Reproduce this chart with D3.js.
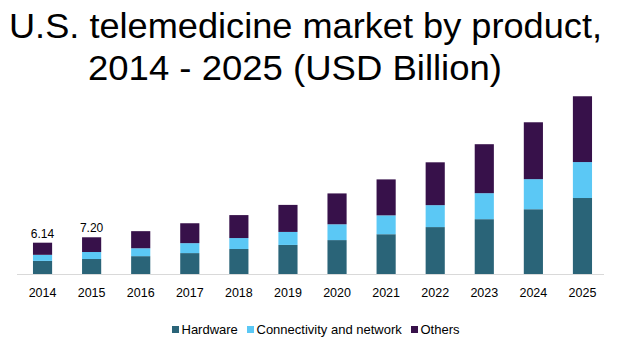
<!DOCTYPE html>
<html>
<head>
<meta charset="UTF-8">
<script src="https://d3js.org/d3.v7.min.js"></script>
<style>
  body { margin:0; background:#fff; }
  svg { display:block; font-family: "Liberation Sans", Arial, sans-serif; }
</style>
</head>
<body>
<svg width="619" height="345"></svg>
<script>
const years = ['2014','2015','2016','2017','2018','2019','2020','2021','2022','2023','2024','2025'];
const hardware = [2.57, 2.94, 3.5, 4.1, 4.9, 5.7, 6.65, 7.8, 9.2, 10.75, 12.7, 14.9];
const connectivity = [1.19, 1.37, 1.55, 1.95, 2.15, 2.55, 3.1, 3.7, 4.3, 5.1, 5.9, 7.05];
const others = [2.38, 2.89, 3.35, 3.9, 4.5, 5.3, 6.05, 7.05, 8.4, 9.6, 11.15, 12.9];
const totalLabels = ['6.14', '7.20'];
const seriesNames = ['Hardware', 'Connectivity and network', 'Others'];
const colors = ['#2a6478', '#5bc8f5', '#37114a'];

const svg = d3.select('svg');

const rows = years.map((y, i) => ({year: y, Hardware: hardware[i], 'Connectivity and network': connectivity[i], Others: others[i]}));
const stack = d3.stack().keys(seriesNames)(rows);

const x = d3.scaleBand().domain(years).range([18, 607]).paddingInner(0.61).paddingOuter(0.305);
const y = d3.scaleLinear().domain([0, 35]).range([274, 95.5]);

// title
const title = svg.append('g').attr('text-anchor', 'middle').attr('fill', '#000').style('font-size', '35px');
title.append('text').attr('x', 305.5).attr('y', 37.5)
  .attr('textLength', 593).attr('lengthAdjust', 'spacingAndGlyphs')
  .text('U.S. telemedicine market by product,');
title.append('text').attr('x', 295).attr('y', 80)
  .attr('textLength', 414).attr('lengthAdjust', 'spacingAndGlyphs')
  .text('2014 - 2025 (USD Billion)');

// bars
svg.append('g').selectAll('g').data(stack).join('g')
  .attr('fill', (d, i) => colors[i])
  .selectAll('rect').data(d => d).join('rect')
  .attr('x', d => x(d.data.year))
  .attr('width', x.bandwidth())
  .attr('y', d => y(d[1]))
  .attr('height', d => y(d[0]) - y(d[1]));

// axis
const axis = svg.append('g').attr('transform', 'translate(0,274)')
  .call(d3.axisBottom(x).tickSize(0).tickSizeOuter(0));
axis.select('.domain').attr('stroke', '#d9d9d9').attr('d', 'M17,0.5H604');
axis.selectAll('text')
  .attr('y', 23).attr('dy', 0)
  .style('font-size', '12.5px')
  .style('font-family', '"Liberation Sans", Arial, sans-serif')
  .attr('fill', '#000');

// total labels
svg.append('g').selectAll('text').data(totalLabels).join('text')
  .attr('x', (d, i) => x(years[i]) + x.bandwidth() / 2)
  .attr('y', (d, i) => y(hardware[i] + connectivity[i] + others[i]) - 5)
  .attr('text-anchor', 'middle')
  .style('font-size', '12px')
  .text(d => d);

// legend
const legX = [172, 247, 411];
const leg = svg.append('g').selectAll('g').data(seriesNames).join('g')
  .attr('transform', (d, i) => `translate(${legX[i]},326)`);
leg.append('rect').attr('x', 0).attr('y', 0).attr('width', 7).attr('height', 7).attr('fill', (d, i) => colors[i]);
leg.append('text').attr('x', 9.5).attr('y', 8).style('font-size', '13px').text(d => d);
</script>
</body>
</html>
